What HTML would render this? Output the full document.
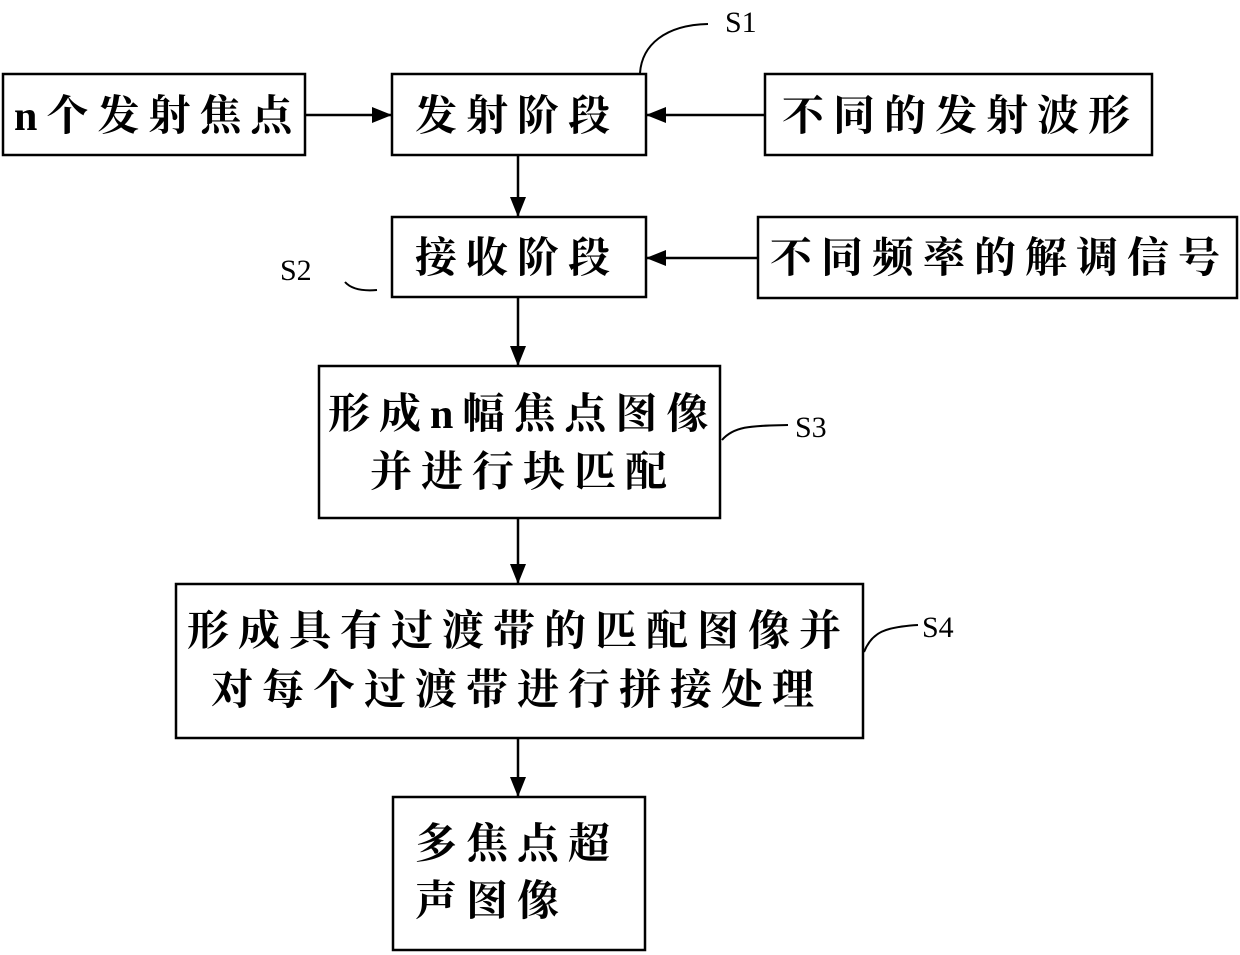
<!DOCTYPE html>
<html><head><meta charset="utf-8"><style>
html,body{margin:0;padding:0;background:#fff;}
svg{display:block;}
text{font-family:"Liberation Serif","Noto Serif CJK SC",serif;font-weight:bold;fill:#000;}
.t{font-size:42px;letter-spacing:9px;}
.l{font-size:30px;font-weight:normal;}
</style></head><body>
<svg width="1240" height="955" viewBox="0 0 1240 955" xmlns="http://www.w3.org/2000/svg">
<defs><marker id="a" markerWidth="10" markerHeight="10" refX="10" refY="5" orient="auto" markerUnits="userSpaceOnUse" viewBox="0 0 10 10"><path d="M0,0 L10,5 L0,10 z" fill="#000"/></marker>
<marker id="b" markerWidth="20" markerHeight="16" refX="20" refY="8" orient="auto" markerUnits="userSpaceOnUse" viewBox="0 0 20 16"><path d="M0,0 L20,8 L0,16 z" fill="#000"/></marker></defs>
<g fill="none" stroke="#000" stroke-width="2.5">
<rect x="3" y="74" width="302" height="81"/>
<rect x="392" y="74" width="254" height="81"/>
<rect x="765" y="74" width="387" height="81"/>
<rect x="392" y="217" width="254" height="80"/>
<rect x="758" y="217" width="479" height="81"/>
<rect x="319" y="366" width="401" height="152"/>
<rect x="176" y="584" width="687" height="154"/>
<rect x="393" y="797" width="252" height="153"/>
</g>
<g stroke="#000" stroke-width="2.5" fill="none">
<line x1="305" y1="115" x2="392" y2="115" marker-end="url(#b)"/>
<line x1="765" y1="115" x2="646" y2="115" marker-end="url(#b)"/>
<line x1="758" y1="258" x2="646" y2="258" marker-end="url(#b)"/>
<line x1="518" y1="155" x2="518" y2="217" marker-end="url(#b)"/>
<line x1="518" y1="297" x2="518" y2="366" marker-end="url(#b)"/>
<line x1="518" y1="518" x2="518" y2="584" marker-end="url(#b)"/>
<line x1="518" y1="738" x2="518" y2="797" marker-end="url(#b)"/>
<path d="M640,73 C642,45 665,25 708,24" stroke-width="2"/>
<path d="M345,282 C352,290 365,291 377,290" stroke-width="2"/>
<path d="M722,440 C735,425 755,426 788,425" stroke-width="2"/>
<path d="M864,652 C872,632 885,627 918,625" stroke-width="2"/>
</g>
<text class="l" x="725" y="32">S1</text>
<text class="l" x="280" y="280">S2</text>
<text class="l" x="795" y="437">S3</text>
<text class="l" x="922" y="637">S4</text>
<text class="t" x="14" y="130">n个发射焦点</text>
<text class="t" x="415" y="130">发射阶段</text>
<text class="t" x="782" y="130">不同的发射波形</text>
<text class="t" x="415" y="272">接收阶段</text>
<text class="t" x="770" y="272">不同频率的解调信号</text>
<text class="t" x="328" y="428">形成n幅焦点图像</text>
<text class="t" x="370" y="486">并进行块匹配</text>
<text class="t" x="187" y="645">形成具有过渡带的匹配图像并</text>
<text class="t" x="211" y="704">对每个过渡带进行拼接处理</text>
<text class="t" x="415" y="858">多焦点超</text>
<text class="t" x="415" y="915">声图像</text>
</svg>
</body></html>
